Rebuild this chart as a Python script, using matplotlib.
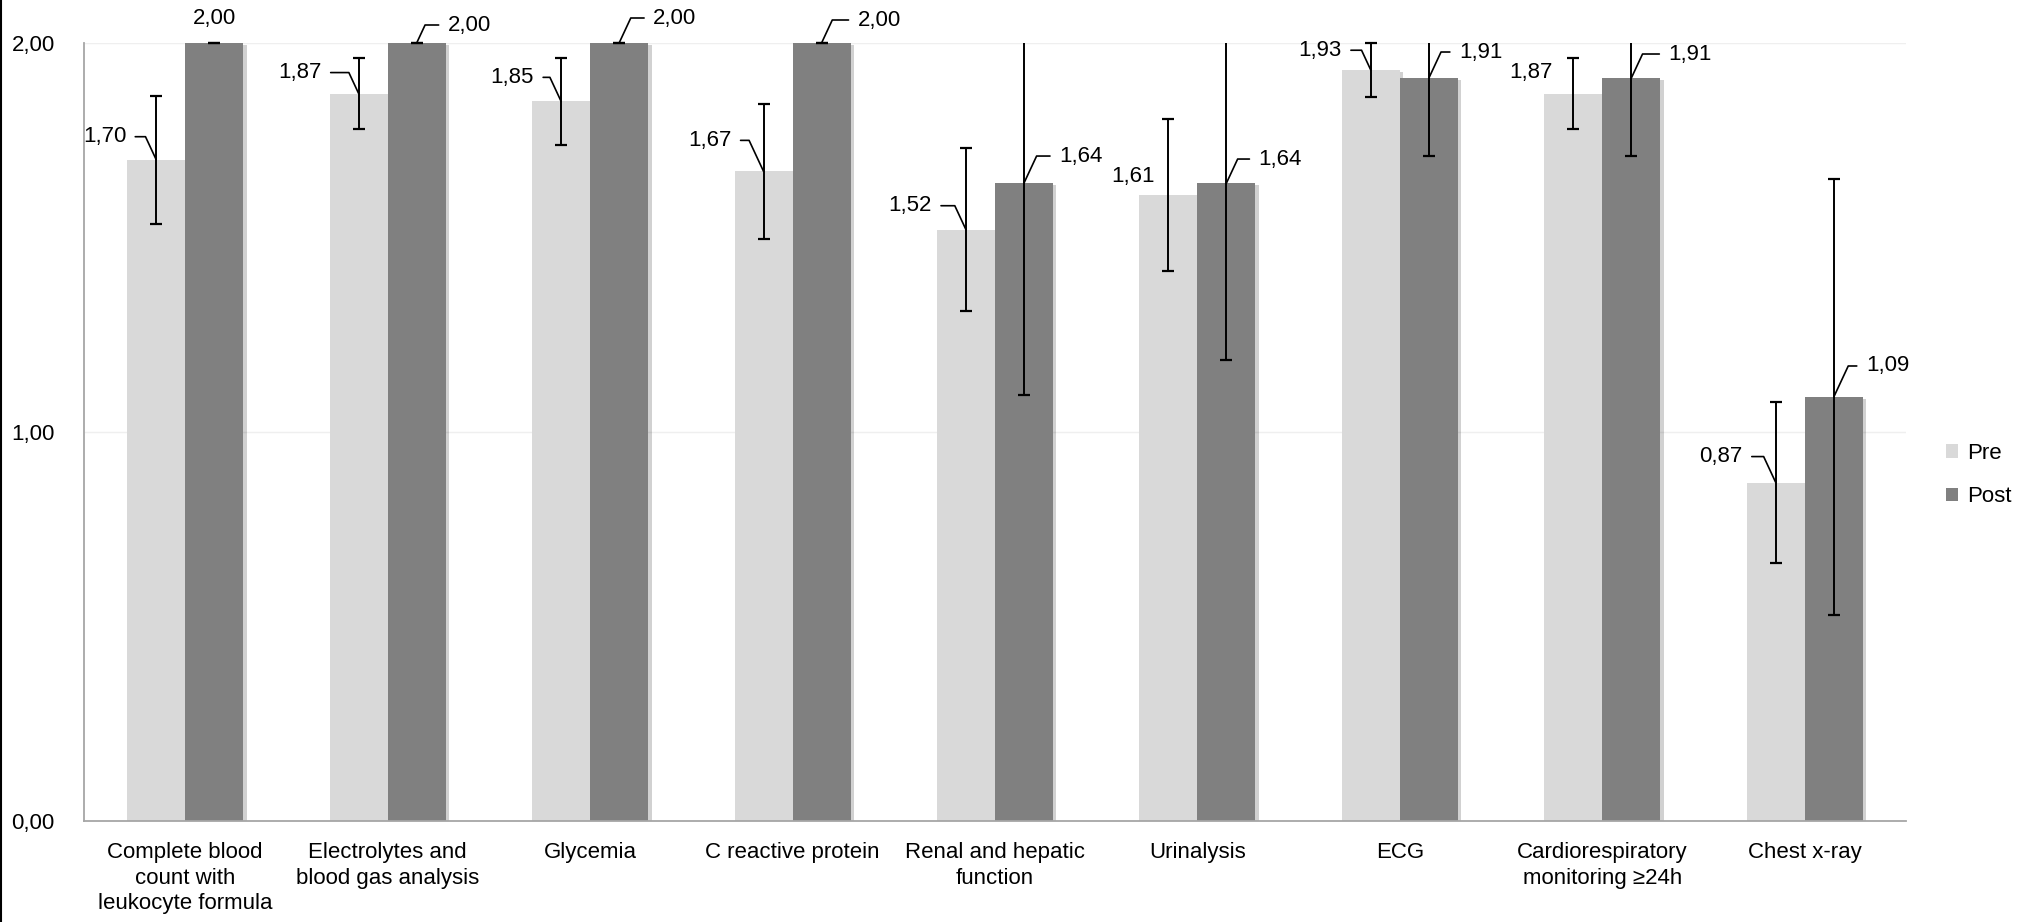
import numpy as np
import matplotlib
matplotlib.use("Agg")
from matplotlib import pyplot as plt
from matplotlib.lines import Line2D
from matplotlib.patches import Patch
import matplotlib.patheffects as pe

plt.rcParams['font.family'] = ['Liberation Sans', 'DejaVu Sans']

categories = ["Complete blood\ncount with\nleukocyte formula",
              "Electrolytes and\nblood gas analysis",
              "Glycemia",
              "C reactive protein",
              "Renal and hepatic\nfunction",
              "Urinalysis",
              "ECG",
              "Cardiorespiratory\nmonitoring \u226524h",
              "Chest x-ray"]
pre = [1.70, 1.87, 1.85, 1.67, 1.52, 1.61, 1.93, 1.87, 0.87]
post = [2.00, 2.00, 2.00, 2.00, 1.64, 1.64, 1.91, 1.91, 1.09]
pre_err = [0.165, 0.092, 0.112, 0.174, 0.21, 0.195, 0.07, 0.092, 0.207]
post_err = [0.0, 0.0, 0.0, 0.0, 0.545, 0.455, 0.2, 0.2, 0.56]
yticks = [0.0, 1.0, 2.0]

# label placement (pixels from bar top), leader on/off
pre_off = [(-30, 23), (-37, 21), (-27, 24), (-32, 31), (-34, 24), (-14, 18), (-29, 20), (-21, 21), (-33, 26)]
pre_lead = [1, 1, 1, 1, 1, 0, 1, 0, 1]
post_off = [(0, 25), (31, 18), (34, 25), (36, 23), (35, 27), (32, 24), (30, 26), (37, 24), (32, 31)]
post_lead = [0, 1, 1, 1, 1, 1, 1, 1, 1]

PRE_C = "#d9d9d9"
POST_C = "#808080"
FS = 16


def fmt(v):
    return f"{v:.2f}".replace(".", ",")


fig = plt.figure(figsize=(20.36, 9.22), dpi=100)
ax = fig.add_axes([84 / 2036, 1 - 821 / 922, (1906 - 84) / 2036, (821 - 43) / 922])

x = np.arange(len(categories))
w = 0.2866
ymax = 2.0

shadow = [pe.SimplePatchShadow(offset=(2.5, -1.5), shadow_rgbFace="#000000", alpha=0.18), pe.Normal()]
bp = ax.bar(x - w / 2, pre, w, color=PRE_C, zorder=2)
bq = ax.bar(x + w / 2, post, w, color=POST_C, zorder=2)
for b in list(bp) + list(bq):
    b.set_path_effects(shadow)

# error bars (clipped at the top of the value axis, caps only when inside)
for xs, vals, errs in [(x - w / 2, pre, pre_err), (x + w / 2, post, post_err)]:
    vals = np.array(vals)
    errs = np.array(errs)
    lo = vals - errs
    hi = vals + errs
    ax.vlines(xs, lo, np.minimum(hi, ymax), color="black", lw=1.4, zorder=4, clip_on=False)
    ax.plot(xs, lo, ls="none", marker="_", ms=8, mew=1.6, color="black", zorder=4, clip_on=False)
    inside = hi <= ymax + 1e-9
    ax.plot(xs[inside], hi[inside], ls="none", marker="_", ms=8, mew=1.6, color="black", zorder=4, clip_on=False)

ax.set_xlim(-0.5, len(categories) - 0.5)
ax.set_ylim(0, ymax)

ax.set_yticks(yticks)
ax.set_yticklabels([fmt(v) for v in yticks])
ax.set_xticks(x)
ax.set_xticklabels(categories, linespacing=1.3)
ax.tick_params(axis="y", length=0, pad=21, labelsize=FS)
ax.tick_params(axis="x", length=0, pad=15, labelsize=FS)

ax.yaxis.grid(True, color="#efefef", lw=1, zorder=0)
ax.set_axisbelow(True)
for s in ["top", "right"]:
    ax.spines[s].set_visible(False)
for s in ["left", "bottom"]:
    ax.spines[s].set_color("#a6a6a6")
    ax.spines[s].set_linewidth(1.3)

# data labels with leader lines
for i in range(len(categories)):
    dx, dy = pre_off[i]
    ap = None
    if pre_lead[i]:
        ap = dict(arrowstyle="-", color="black", lw=1.2, relpos=(1, 0.5), shrinkA=4.5, shrinkB=0,
                  connectionstyle="angle,angleA=0,angleB=115,rad=0")
    ax.annotate(fmt(pre[i]), xy=(x[i] - w / 2, pre[i]), xytext=(dx, dy), textcoords="offset pixels",
                ha="right", va="center", fontsize=FS, arrowprops=ap, zorder=5, annotation_clip=False)

    dx, dy = post_off[i]
    ap = None
    ha = "left"
    if post_lead[i]:
        ap = dict(arrowstyle="-", color="black", lw=1.2, relpos=(0, 0.5), shrinkA=4.5, shrinkB=0,
                  connectionstyle="angle,angleA=0,angleB=65,rad=0")
    else:
        ha = "center"
    ax.annotate(fmt(post[i]), xy=(x[i] + w / 2, post[i]), xytext=(dx, dy), textcoords="offset pixels",
                ha=ha, va="center", fontsize=FS, arrowprops=ap, zorder=5, annotation_clip=False)

handles = [Patch(facecolor=PRE_C, label="Pre"), Patch(facecolor=POST_C, label="Post")]
fig.legend(handles=handles, loc="center left", bbox_to_anchor=(1946 / 2036, 1 - 475 / 922),
           frameon=False, fontsize=FS, handlelength=0.55, handleheight=0.55, handletextpad=0.4,
           labelspacing=1.0, borderpad=0, borderaxespad=0)

fig.add_artist(Line2D([0.0005, 0.0005], [0, 1], color="black", lw=1.5, transform=fig.transFigure))

fig.savefig("out.png", dpi=100)
